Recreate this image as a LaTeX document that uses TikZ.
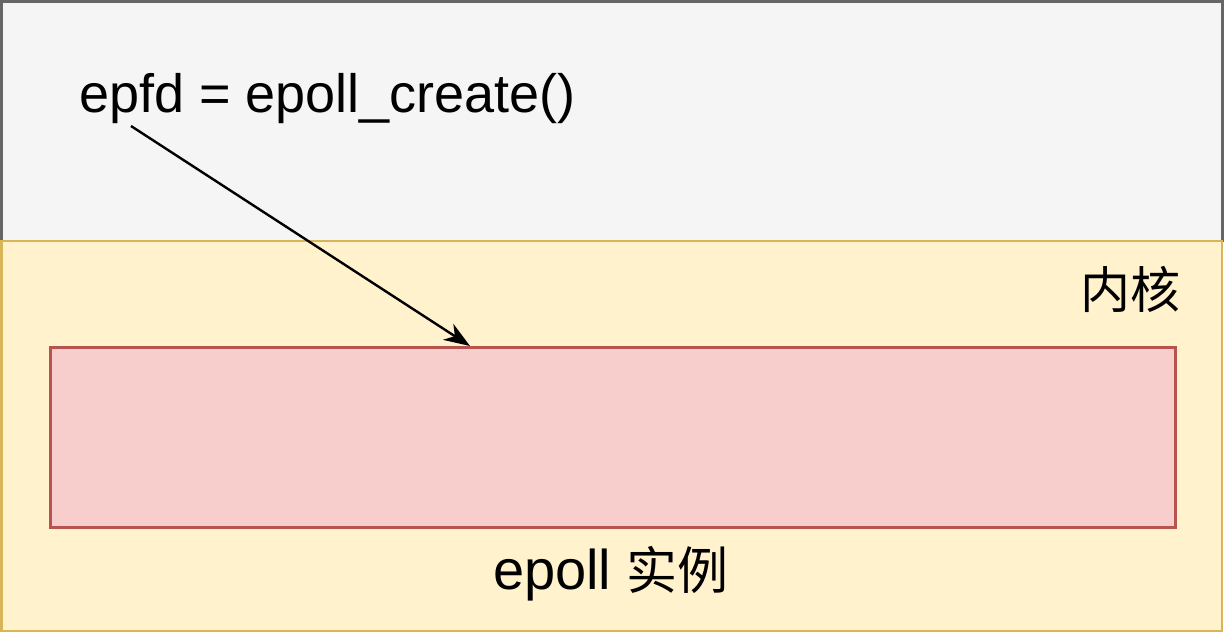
\documentclass[tikz,border=0pt]{standalone}
\usepackage{fontspec}
\setmainfont{Liberation Sans}
\newfontfamily\cjk{Noto Sans CJK SC}
\usetikzlibrary{arrows.meta,calc}
\definecolor{userfill}{HTML}{F5F5F5}
\definecolor{userline}{HTML}{666666}
\definecolor{kernfill}{HTML}{FFF2CC}
\definecolor{kernline}{HTML}{D6B656}
\definecolor{epfill}{HTML}{F8CECC}
\definecolor{epline}{HTML}{B85450}
\tikzset{
  box/.style={line width=2.6pt},
  lbl/.style={inner sep=0pt, text=black},
  conn/.style={line width=2.4pt, -{Stealth[length=26pt,width=19pt,inset=8pt]}}
}
\begin{document}
\begin{tikzpicture}[x=1pt,y=-1pt]
\useasboundingbox (0,0) rectangle (1224,634);
\draw[box, fill=userfill, draw=userline] (1.5,1.5) rectangle (1222.5,241);
\draw[box, fill=kernfill, draw=kernline] (1.5,241) rectangle (1222,631);
\node[box, fill=epfill, draw=epline, minimum width=1125pt, minimum height=180pt, inner sep=0pt, anchor=north west] (ep) at (49,346) {};
\node[lbl, anchor=base west, font=\fontsize{54}{60}\selectfont] (call) at (79,113) {epfd = epoll\_create()};
\node[lbl, anchor=center, font=\fontsize{50}{56}\selectfont\cjk] (kern) at (1130,289) {内核};
\node[lbl, anchor=center, font=\fontsize{56}{62}\selectfont] (inst) at (611,574) {epoll {\cjk\fontsize{51}{58}\selectfont 实例}};
\coordinate (start) at (131,126);
\draw[conn] (start) -- ($(ep.north west)+(421,0)$);
\end{tikzpicture}
\end{document}
